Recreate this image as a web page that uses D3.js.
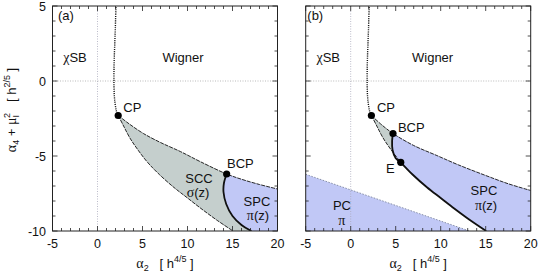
<!DOCTYPE html>
<html>
<head>
<meta charset="utf-8">
<script src="https://cdn.jsdelivr.net/npm/d3@7"></script>
<style>
  body { margin: 0; background: #fff; }
  text { font-family: "Liberation Sans", Arial, sans-serif; fill: #111; }
  .greek { font-family: "Liberation Serif", "DejaVu Serif", serif; }
</style>
</head>
<body>
<div id="chart"></div>
<script>
// ---- data (x = alpha2, y = alpha4 + muI^2) ----
var xTicks = [-5, 0, 5, 10, 15, 20];
var yTicks = [5, 0, -5, -10];

// dotted line above the critical point
var dottedLine = [[2.3, -2.3], [2.1, -2.0], [1.95, -1.5], [1.87, -1], [1.83, -0.3], [1.83, 0.5],
                  [1.86, 1.5], [1.92, 2.5], [1.98, 3.5], [2.05, 5]];

// lower spinodal, CP -> E and E -> bottom edge
var lowerSpin1 = [[2.3, -2.3], [2.9, -3.0], [3.6, -3.8], [4.5, -4.6], [5.56, -5.42]];
var lowerSpin2 = [[5.56, -5.42], [6.9, -6.25], [8.5, -7.1], [10, -7.8], [11.5, -8.5], [13.2, -9.25], [15.05, -10]];

// panel (a)
var upperA1 = [[2.3, -2.3], [3.5, -2.85], [5.1, -3.5], [7, -4.1], [9.2, -4.7], [11.5, -5.4], [14.35, -6.2]];
var upperA2 = [[14.35, -6.2], [16, -6.55], [18, -6.9], [20, -7.2]];
var transitionA = [[14.35, -6.2], [14.05, -6.8], [14.0, -7.4], [14.3, -8.2], [15.0, -9.0], [16.0, -9.6], [17.1, -10]];

// panel (b)
var upperB1 = [[2.3, -2.3], [3.5, -2.95], [4.7, -3.5]];
var upperB2 = [[4.7, -3.5], [7, -4.3], [9.5, -4.95], [12, -5.6], [15, -6.3], [17.5, -6.85], [20, -7.3]];
var transitionB = [[4.7, -3.5], [4.6, -4.0], [4.65, -4.6], [5.0, -5.15], [5.56, -5.42]];
var pcLine = [[-5, -6.22], [13.2, -10]];

var pointsA = [[2.3, -2.3], [14.35, -6.2]];
var pointsB = [[2.3, -2.3], [4.7, -3.5], [5.56, -5.42]];

var labelsA = [
  { t: "(a)", x: -4.39, y: 4.07, a: "start" },
  { t: "χSB", x: -2.5, y: 1.27, a: "middle" },
  { t: "Wigner", x: 9.5, y: 1.27, a: "middle" },
  { t: "CP", x: 2.87, y: -2.07, a: "start" },
  { t: "BCP", x: 14.39, y: -5.83, a: "start" },
  { t: "SCC", x: 11.28, y: -6.8, a: "middle" },
  { t: "σ(z)", x: 11.17, y: -7.72, a: "middle" },
  { t: "SPC", x: 17.72, y: -8.3, a: "middle" },
  { t: "π(z)", x: 17.83, y: -9.25, a: "middle" }
];
var labelsB = [
  { t: "(b)", x: -4.82, y: 4.07, a: "start" },
  { t: "χSB", x: -2.5, y: 1.27, a: "middle" },
  { t: "Wigner", x: 9.1, y: 1.27, a: "middle" },
  { t: "CP", x: 2.92, y: -2.07, a: "start" },
  { t: "BCP", x: 5.25, y: -3.4, a: "start" },
  { t: "E", x: 3.92, y: -6.13, a: "start" },
  { t: "SPC", x: 14.81, y: -7.57, a: "middle" },
  { t: "π(z)", x: 15.04, y: -8.58, a: "middle" },
  { t: "PC", x: -0.97, y: -8.6, a: "middle" },
  { t: "π", x: -1.0, y: -9.6, a: "middle" }
];

var grayFill = "#c5cfcd", blueFill = "#c1c8f6";

var svg = d3.select("#chart").append("svg")
    .attr("width", 540)
    .attr("height", 274);

var plotTop = 6, plotBottom = 231;

function drawPanel(id, left, showYLabels) {
    var x = d3.scaleLinear().domain([-5, 20]).range([left, left + 225]);
    var y = d3.scaleLinear().domain([-10, 5]).range([plotBottom, plotTop]);

    var g = svg.append("g");
    g.append("clipPath").attr("id", "clip" + id)
        .append("rect")
        .attr("x", x(-5)).attr("y", y(5))
        .attr("width", x(20) - x(-5)).attr("height", y(-10) - y(5));

    var curve = d3.line()
        .x(function(d) { return x(d[0]); })
        .y(function(d) { return y(d[1]); })
        .curve(d3.curveCatmullRom.alpha(0.5));
    var straight = d3.line()
        .x(function(d) { return x(d[0]); })
        .y(function(d) { return y(d[1]); });

    // glue several pieces into one closed area
    function joined(pieces) {
        return pieces.map(function(p, i) {
            var s = (p.lin ? straight : curve)(p.pts);
            return i ? s.replace(/^M/, "L") : s;
        }).join("") + "Z";
    }
    function rev(a) { return a.slice().reverse(); }

    var plot = g.append("g").attr("clip-path", "url(#clip" + id + ")");

    return { x: x, y: y, g: g, plot: plot, curve: curve, straight: straight, joined: joined, rev: rev,
             left: left, showYLabels: showYLabels };
}

function zeroLines(p) {
    var x = p.x, y = p.y, g = p.g;
    g.append("line")
        .attr("x1", x(0)).attr("x2", x(0)).attr("y1", y(5)).attr("y2", y(-10))
        .attr("stroke", "#aab").attr("stroke-width", 0.8).attr("stroke-dasharray", "1,1.5");
    g.append("line")
        .attr("x1", x(-5)).attr("x2", x(20)).attr("y1", y(0)).attr("y2", y(0))
        .attr("stroke", "#aaa").attr("stroke-width", 0.8).attr("stroke-dasharray", "1,1.5");
}

function frame(p) {
    var x = p.x, y = p.y, g = p.g;
    g.append("rect")
        .attr("x", x(-5)).attr("y", y(5))
        .attr("width", x(20) - x(-5)).attr("height", y(-10) - y(5))
        .attr("fill", "none").attr("stroke", "#222").attr("stroke-width", 1);

    var xs = d3.range(-5, 21, 1), ys = d3.range(-10, 6, 1);
    xs.forEach(function(v) {
        var len = v % 5 === 0 ? 5 : 3;
        g.append("line").attr("x1", x(v)).attr("x2", x(v)).attr("y1", y(-10)).attr("y2", y(-10) - len)
            .attr("stroke", "#222").attr("stroke-width", 0.8);
        g.append("line").attr("x1", x(v)).attr("x2", x(v)).attr("y1", y(5)).attr("y2", y(5) + len)
            .attr("stroke", "#222").attr("stroke-width", 0.8);
    });
    ys.forEach(function(v) {
        var len = v % 5 === 0 ? 5 : 3;
        g.append("line").attr("x1", x(-5)).attr("x2", x(-5) + len).attr("y1", y(v)).attr("y2", y(v))
            .attr("stroke", "#222").attr("stroke-width", 0.8);
        g.append("line").attr("x1", x(20)).attr("x2", x(20) - len).attr("y1", y(v)).attr("y2", y(v))
            .attr("stroke", "#222").attr("stroke-width", 0.8);
    });

    g.selectAll("text.xt").data(xTicks).enter().append("text")
        .attr("class", "xt")
        .attr("x", function(d) { return x(d); })
        .attr("y", 248)
        .attr("text-anchor", "middle")
        .style("font-size", "12.5px")
        .text(function(d) { return d; });

    if (p.showYLabels) {
        g.selectAll("text.yt").data(yTicks).enter().append("text")
            .attr("class", "yt")
            .attr("x", 46)
            .attr("y", function(d) { return y(d) + 4.5; })
            .attr("text-anchor", "end")
            .style("font-size", "12.5px")
            .text(function(d) { return d; });
    }

    // x axis title
    var xl = g.append("text")
        .attr("x", (x(-5) + x(20)) / 2)
        .attr("y", 268)
        .attr("text-anchor", "middle")
        .style("font-size", "13px");
    xl.append("tspan").attr("class", "greek").style("font-size", "14px").text("α");
    xl.append("tspan").attr("dy", 3).style("font-size", "9px").text("2");
    xl.append("tspan").attr("dy", -3).attr("xml:space", "preserve").text("   [ h");
    xl.append("tspan").attr("dy", -6).style("font-size", "9px").text("4/5");
    xl.append("tspan").attr("dy", 6).text(" ]");
}

function drawLabels(p, labels) {
    p.g.selectAll("text.lab").data(labels).enter().append("text")
        .attr("class", "lab")
        .attr("x", function(d) { return p.x(d.x); })
        .attr("y", function(d) { return p.y(d.y); })
        .attr("text-anchor", function(d) { return d.a; })
        .style("font-size", "13px")
        .each(function(d) {
            var el = d3.select(this);
            // greek letters set in a serif face
            d.t.split(/([χσπ])/).forEach(function(part) {
                if (!part) return;
                var ts = el.append("tspan").text(part);
                if (/[χσπ]/.test(part)) ts.attr("class", "greek").style("font-size", "14px");
            });
        });
}

function dots(p, pts) {
    p.g.selectAll("circle.pt").data(pts).enter().append("circle")
        .attr("class", "pt")
        .attr("cx", function(d) { return p.x(d[0]); })
        .attr("cy", function(d) { return p.y(d[1]); })
        .attr("r", 3.6)
        .attr("fill", "#000");
}

function stroke(p, pts, w, dash, col, lin) {
    p.plot.append("path")
        .attr("d", (lin ? p.straight : p.curve)(pts))
        .attr("fill", "none")
        .attr("stroke", col || "#111")
        .attr("stroke-width", w)
        .attr("stroke-dasharray", dash || null);
}

var lowerSpin = lowerSpin1.concat(lowerSpin2.slice(1));

// ---------- panel (a) ----------
var pa = drawPanel("a", 52.5, true);
pa.plot.append("path")
    .attr("d", pa.joined([
        { pts: upperA1 },
        { pts: transitionA },
        { pts: [[17.1, -10], [15.05, -10]], lin: true },
        { pts: pa.rev(lowerSpin) }
    ]))
    .attr("fill", grayFill);
pa.plot.append("path")
    .attr("d", pa.joined([
        { pts: upperA2 },
        { pts: [[20, -7.2], [20, -10], [17.1, -10]], lin: true },
        { pts: pa.rev(transitionA) }
    ]))
    .attr("fill", blueFill);
zeroLines(pa);
stroke(pa, dottedLine, 1.4, "1.1,1.1");
stroke(pa, upperA1.concat(upperA2.slice(1)), 0.9, "4,1");
stroke(pa, lowerSpin, 0.9, "4,1");
stroke(pa, transitionA, 1.8);
frame(pa);
dots(pa, pointsA);
drawLabels(pa, labelsA);

// ---------- panel (b) ----------
var pb = drawPanel("b", 305.7, false);
pb.plot.append("path")
    .attr("d", pb.joined([
        { pts: pcLine, lin: true },
        { pts: [[13.2, -10], [-5, -10]], lin: true }
    ]))
    .attr("fill", blueFill);
pb.plot.append("path")
    .attr("d", pb.joined([
        { pts: upperB1 },
        { pts: transitionB },
        { pts: pb.rev(lowerSpin1) }
    ]))
    .attr("fill", grayFill);
pb.plot.append("path")
    .attr("d", pb.joined([
        { pts: upperB2 },
        { pts: [[20, -7.3], [20, -10], [15.05, -10]], lin: true },
        { pts: pb.rev(lowerSpin2) },
        { pts: pb.rev(transitionB) }
    ]))
    .attr("fill", blueFill);
zeroLines(pb);
stroke(pb, pcLine, 1, "1.5,1.5", "#8890a8", true);
stroke(pb, dottedLine, 1.4, "1.1,1.1");
stroke(pb, upperB1.concat(upperB2.slice(1)), 0.9, "4,1");
stroke(pb, lowerSpin1, 0.9, "4,1");
stroke(pb, lowerSpin2, 1.8);
stroke(pb, transitionB, 1.8);
frame(pb);
dots(pb, pointsB);
drawLabels(pb, labelsB);

// y axis title
var yl = svg.append("text")
    .attr("transform", "translate(16,110) rotate(-90)")
    .attr("text-anchor", "middle")
    .style("font-size", "13px");
yl.append("tspan").attr("class", "greek").style("font-size", "14px").text("α");
yl.append("tspan").attr("dy", 3).style("font-size", "9px").text("4");
yl.append("tspan").attr("dy", -3).text(" + ");
yl.append("tspan").attr("class", "greek").style("font-size", "14px").text("μ");
yl.append("tspan").attr("dy", 3).style("font-size", "9px").text("I");
yl.append("tspan").attr("dx", -3).attr("dy", -9).style("font-size", "9px").text("2");
yl.append("tspan").attr("dy", 6).attr("xml:space", "preserve").text("   [ h");
yl.append("tspan").attr("dy", -6).style("font-size", "9px").text("2/5");
yl.append("tspan").attr("dy", 6).text(" ]");
</script>
</body>
</html>
